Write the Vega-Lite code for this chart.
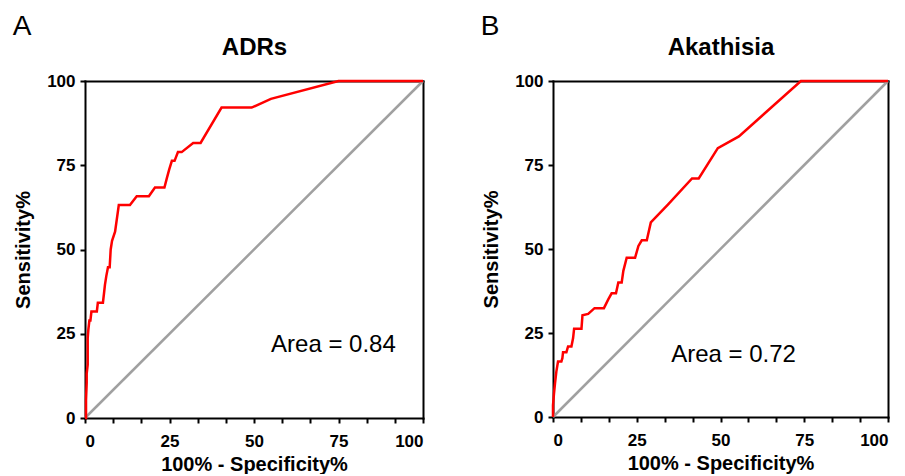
{
  "$schema": "https://vega.github.io/schema/vega-lite/v6.json",
  "padding": {"left": 12, "top": 13, "right": 5, "bottom": 0},
  "background": "white",
  "spacing": 52,
  "config": {
    "view": {"stroke": null},
    "font": "Liberation Sans",
    "axis": {
      "grid": false,
      "domainColor": "black",
      "domainWidth": 2,
      "domainCap": "square",
      "tickColor": "black",
      "tickWidth": 2,
      "tickSize": 5,
      "labelFont": "Liberation Sans",
      "labelFontWeight": "bold",
      "labelFontSize": 17,
      "labelColor": "black",
      "titleFont": "Liberation Sans",
      "titleFontWeight": "bold",
      "titleFontSize": 20,
      "titleColor": "black"
    },
    "title": {"font": "Liberation Sans", "fontSize": 28, "fontWeight": "normal", "color": "black", "anchor": "start", "frame": "bounds", "offset": -6, "dx": -1}
  },
  "datasets": {
    "diag": [{"x": 0, "y": 0}, {"x": 100, "y": 100}],
    "rocA": [
      {"x": 0, "y": 0}, {"x": 0.3, "y": 0}, {"x": 0.3, "y": 5.3}, {"x": 0.5, "y": 10.5}, {"x": 0.5, "y": 13.2},
      {"x": 0.8, "y": 15.8}, {"x": 0.8, "y": 23.7}, {"x": 1.0, "y": 26.3}, {"x": 1.3, "y": 28.9}, {"x": 1.6, "y": 28.9},
      {"x": 1.9, "y": 31.6}, {"x": 3.5, "y": 31.6}, {"x": 3.8, "y": 34.2}, {"x": 5.3, "y": 34.2}, {"x": 5.6, "y": 36.8},
      {"x": 5.9, "y": 39.5}, {"x": 6.3, "y": 42.1}, {"x": 6.8, "y": 44.7}, {"x": 7.3, "y": 44.7}, {"x": 7.6, "y": 50},
      {"x": 8.0, "y": 52.6}, {"x": 8.9, "y": 55.3}, {"x": 10.0, "y": 63.2}, {"x": 13.3, "y": 63.2}, {"x": 15.3, "y": 65.8},
      {"x": 18.9, "y": 65.8}, {"x": 20.7, "y": 68.4}, {"x": 23.5, "y": 68.4}, {"x": 24.2, "y": 71.1}, {"x": 24.9, "y": 73.7},
      {"x": 25.7, "y": 76.3}, {"x": 26.5, "y": 76.3}, {"x": 27.5, "y": 78.9}, {"x": 28.6, "y": 78.9}, {"x": 32.0, "y": 81.6},
      {"x": 34.2, "y": 81.6}, {"x": 40.4, "y": 92.1}, {"x": 49.3, "y": 92.1}, {"x": 55.0, "y": 94.7}, {"x": 75.0, "y": 100},
      {"x": 100, "y": 100}
    ],
    "rocB": [
      {"x": 0, "y": 0}, {"x": 0, "y": 3.5}, {"x": 0.3, "y": 7}, {"x": 0.6, "y": 10}, {"x": 1.0, "y": 13.5},
      {"x": 1.5, "y": 16.5}, {"x": 2.5, "y": 16.5}, {"x": 2.8, "y": 17.5}, {"x": 3.0, "y": 19.3}, {"x": 4.0, "y": 19.3},
      {"x": 4.5, "y": 21}, {"x": 5.5, "y": 21}, {"x": 6.0, "y": 23.5}, {"x": 6.3, "y": 26.3}, {"x": 8.5, "y": 26.3},
      {"x": 8.8, "y": 30.3}, {"x": 10.5, "y": 30.7}, {"x": 12.4, "y": 32.4}, {"x": 15.2, "y": 32.4}, {"x": 16.5, "y": 35},
      {"x": 17.5, "y": 36.8}, {"x": 18.8, "y": 36.8}, {"x": 19.5, "y": 40}, {"x": 20.5, "y": 40}, {"x": 21.0, "y": 43.5},
      {"x": 22.0, "y": 47.4}, {"x": 24.5, "y": 47.4}, {"x": 25.5, "y": 50.9}, {"x": 26.5, "y": 52.6}, {"x": 28.0, "y": 52.6},
      {"x": 29.2, "y": 57.9}, {"x": 34.3, "y": 63.2}, {"x": 41.5, "y": 71}, {"x": 43.5, "y": 71}, {"x": 49.2, "y": 80},
      {"x": 55.5, "y": 83.5}, {"x": 74.0, "y": 100}, {"x": 100, "y": 100}
    ],
    "areaA": [{"label": "Area = 0.84", "x": 73.5, "y": 19.7}],
    "areaB": [{"label": "Area = 0.72", "x": 53.9, "y": 16.5}]
  },
  "hconcat": [
    {
      "title": {"text": "A"},
      "width": 338,
      "height": 337,
      "resolve": {"axis": {"x": "independent", "y": "independent"}},
      "layer": [
        {
          "data": {"name": "diag"},
          "mark": {"type": "line", "color": "#a0a0a0", "strokeWidth": 2.5},
          "encoding": {
            "x": {"field": "x", "type": "quantitative", "scale": {"domain": [0, 100], "nice": false},
              "axis": {"orient": "bottom", "title": "100% - Specificity%", "values": [0, 8.333, 16.667, 25, 33.333, 41.667, 50, 58.333, 66.667, 75, 83.333, 91.667, 100], "format": "d", "labelExpr": "datum.value % 25 == 0 ? datum.label : ''", "labelOverlap": false, "labelPadding": 10, "titlePadding": 5}},
            "y": {"field": "y", "type": "quantitative", "scale": {"domain": [0, 100], "nice": false},
              "axis": {"orient": "left", "title": "Sensitivity%", "values": [0, 25, 50, 75, 100], "labelPadding": 5, "titlePadding": 13}}
          }
        },
        {
          "data": {"name": "rocA"},
          "mark": {"type": "line", "color": "#ff0000", "strokeWidth": 2.5},
          "encoding": {
            "x": {"field": "x", "type": "quantitative", "scale": {"domain": [0, 100], "nice": false},
              "axis": {"orient": "top", "title": "ADRs", "labels": false, "ticks": false, "titleFontSize": 24, "titlePadding": 22}},
            "y": {"field": "y", "type": "quantitative", "scale": {"domain": [0, 100], "nice": false},
              "axis": {"orient": "right", "title": null, "labels": false, "ticks": false}},
            "order": {"value": null}
          }
        },
        {
          "data": {"name": "areaA"},
          "mark": {"type": "text", "font": "Liberation Sans", "fontSize": 24, "color": "black", "align": "center", "baseline": "alphabetic"},
          "encoding": {
            "x": {"field": "x", "type": "quantitative", "axis": null},
            "y": {"field": "y", "type": "quantitative", "axis": null},
            "text": {"field": "label"}
          }
        }
      ]
    },
    {
      "title": {"text": "B"},
      "width": 335,
      "height": 336,
      "resolve": {"axis": {"x": "independent", "y": "independent"}},
      "layer": [
        {
          "data": {"name": "diag"},
          "mark": {"type": "line", "color": "#a0a0a0", "strokeWidth": 2.5},
          "encoding": {
            "x": {"field": "x", "type": "quantitative", "scale": {"domain": [0, 100], "nice": false},
              "axis": {"orient": "bottom", "title": "100% - Specificity%", "values": [0, 8.333, 16.667, 25, 33.333, 41.667, 50, 58.333, 66.667, 75, 83.333, 91.667, 100], "format": "d", "labelExpr": "datum.value % 25 == 0 ? datum.label : ''", "labelOverlap": false, "labelPadding": 10, "titlePadding": 5}},
            "y": {"field": "y", "type": "quantitative", "scale": {"domain": [0, 100], "nice": false},
              "axis": {"orient": "left", "title": "Sensitivity%", "values": [0, 25, 50, 75, 100], "labelPadding": 5, "titlePadding": 13}}
          }
        },
        {
          "data": {"name": "rocB"},
          "mark": {"type": "line", "color": "#ff0000", "strokeWidth": 2.5},
          "encoding": {
            "x": {"field": "x", "type": "quantitative", "scale": {"domain": [0, 100], "nice": false},
              "axis": {"orient": "top", "title": "Akathisia", "labels": false, "ticks": false, "titleFontSize": 24, "titlePadding": 22}},
            "y": {"field": "y", "type": "quantitative", "scale": {"domain": [0, 100], "nice": false},
              "axis": {"orient": "right", "title": null, "labels": false, "ticks": false}},
            "order": {"value": null}
          }
        },
        {
          "data": {"name": "areaB"},
          "mark": {"type": "text", "font": "Liberation Sans", "fontSize": 24, "color": "black", "align": "center", "baseline": "alphabetic"},
          "encoding": {
            "x": {"field": "x", "type": "quantitative", "axis": null},
            "y": {"field": "y", "type": "quantitative", "axis": null},
            "text": {"field": "label"}
          }
        }
      ]
    }
  ]
}
